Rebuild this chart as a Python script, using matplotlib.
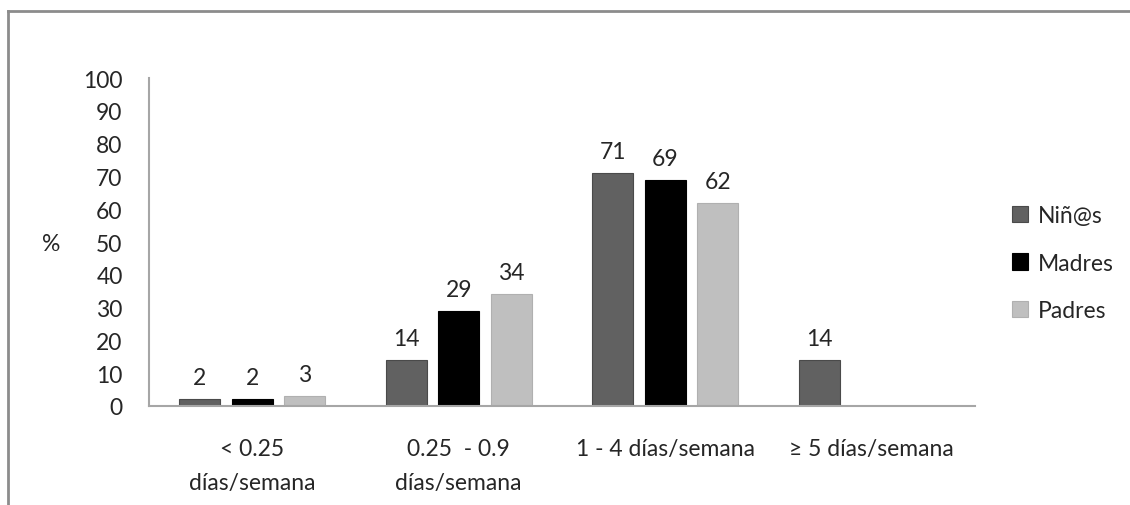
import numpy as np
import matplotlib
matplotlib.use("Agg")
import matplotlib.pyplot as plt
from matplotlib.lines import Line2D

plt.rcParams['font.family'] = ['Lato', 'DejaVu Sans']

# frecuencia semanal por grupo (%)
categorias = ["< 0.25\ndías/semana", "0.25  - 0.9\ndías/semana",
              "1 - 4 días/semana", "≥ 5 días/semana"]
series = ["Niñ@s", "Madres", "Padres"]
ninos = [2, 14, 71, 14]
madres = [2, 29, 69, np.nan]
padres = [3, 34, 62, np.nan]
colores = ["#616161", "#000000", "#bfbfbf"]
bordes = ["#4a4a4a", "#000000", "#b0b0b0"]
yticks = list(range(0, 101, 10))

FS = 16.5

fig = plt.figure(figsize=(11.30, 5.06), dpi=100)
ax = fig.add_axes([149 / 1130, 1 - 407 / 506, 826 / 1130, 328 / 506])

x = np.arange(len(categorias))
ancho = 0.2
paso = 0.254
for i, (nombre, vals) in enumerate(zip(series, [ninos, madres, padres])):
    pos = x + (i - 1) * paso
    vals = np.array(vals, dtype=float)
    ok = ~np.isnan(vals)
    ax.bar(pos[ok], vals[ok], width=ancho, color=colores[i], edgecolor=bordes[i],
           linewidth=0.8, label=nombre)
    for p, v in zip(pos[ok], vals[ok]):
        ax.annotate(f"{v:.0f}", (p, v), xytext=(0, 8), textcoords="offset points",
                    ha="center", va="bottom", fontsize=FS, color="#262626")

ax.set_xlim(-0.5, len(categorias) - 0.5)
ax.set_ylim(0, 100)
ax.set_yticks(yticks)
ax.set_xticks(x)
ax.set_xticklabels(categorias, fontsize=FS, color="#262626", linespacing=1.75)
ax.tick_params(axis="y", length=0, pad=19, labelsize=FS, labelcolor="#262626")
ax.tick_params(axis="x", length=0, pad=23)

for lado in ["top", "right"]:
    ax.spines[lado].set_visible(False)
for lado in ["left", "bottom"]:
    ax.spines[lado].set_color("#a6a6a6")
    ax.spines[lado].set_linewidth(1.5)

fig.text(51 / 1130, 1 - 245 / 506, "%", fontsize=FS, color="#262626",
         ha="center", va="center")

leg = ax.legend(loc="upper left", bbox_to_anchor=(1003 / 1130, 1 - 197 / 506),
                bbox_transform=fig.transFigure, frameon=False, fontsize=FS,
                handlelength=0.7, handleheight=0.7, handletextpad=0.4,
                labelspacing=1.15, borderaxespad=0, labelcolor="#262626")

# marco del área de gráfico
fig.add_artist(Line2D([8 / 1130, 1.01], [1 - 12 / 506, 1 - 12 / 506],
                      transform=fig.transFigure, color="#8c8c8c", linewidth=2))
fig.add_artist(Line2D([8 / 1130, 8 / 1130], [-0.01, 1 - 12 / 506],
                      transform=fig.transFigure, color="#8c8c8c", linewidth=2))

fig.savefig("out.png", dpi=100, facecolor="white")
